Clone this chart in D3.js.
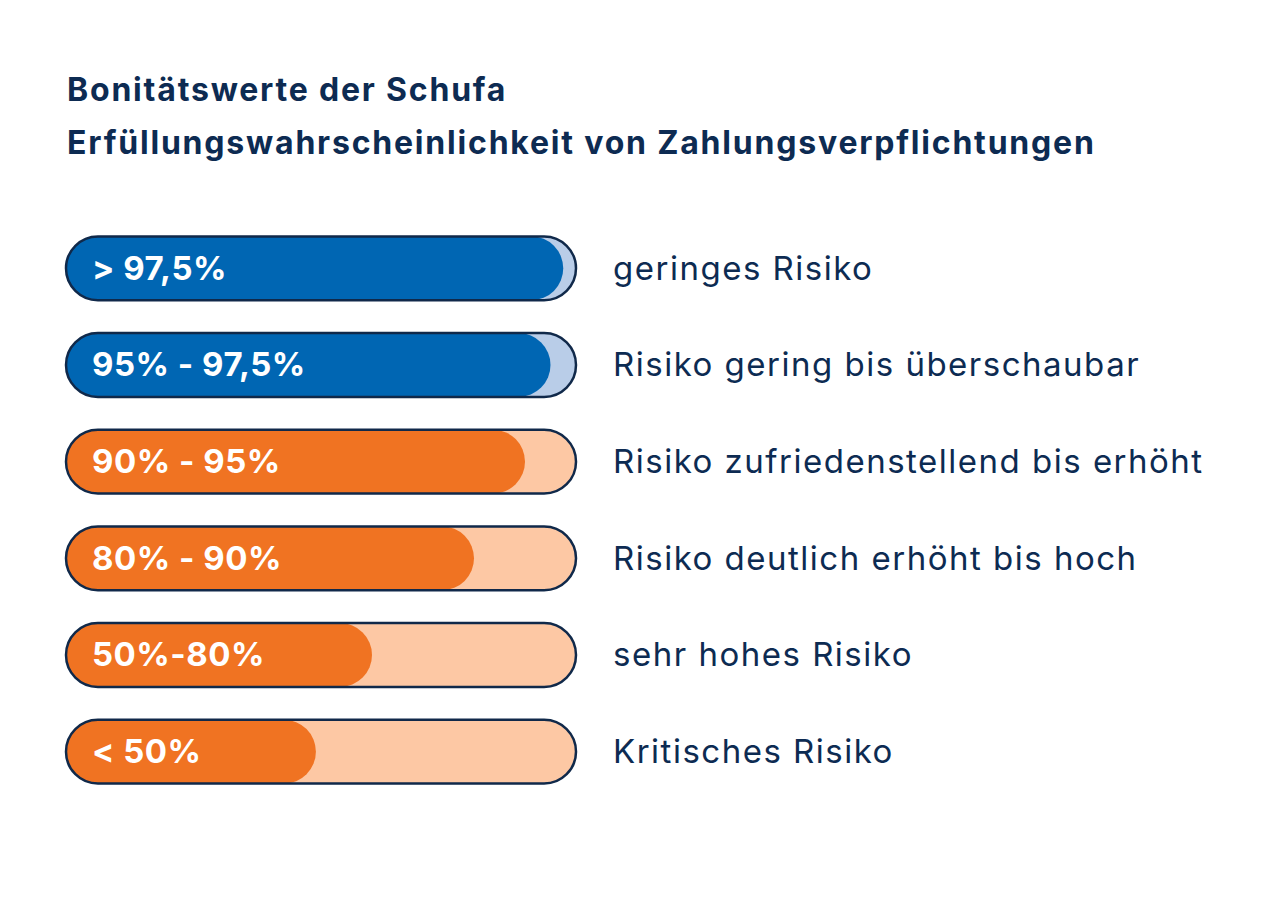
<!DOCTYPE html>
<html>
<head>
<meta charset="utf-8">
<script src="https://cdn.jsdelivr.net/npm/d3@7"></script>
<style>
  html, body { margin: 0; padding: 0; background: #ffffff; }
  svg { display: block; }
</style>
</head>
<body>
<svg id="chart" width="1280" height="922"></svg>
<script>
// ---- data ----
const titleLines = ["Bonitätswerte der Schufa", "Erfüllungswahrscheinlichkeit von Zahlungsverpflichtungen"];
const categories = ["> 97,5%", "95% - 97,5%", "90% - 95%", "80% - 90%", "50%-80%", "< 50%"];
const descriptions = ["geringes Risiko", "Risiko gering bis überschaubar", "Risiko zufriedenstellend bis erhöht", "Risiko deutlich erhöht bis hoch", "sehr hohes Risiko", "Kritisches Risiko"];
const fillValues = [97.5, 95, 90, 80, 60, 49];
const groups = ["blue", "blue", "orange", "orange", "orange", "orange"];

// ---- styles ----
const colors = {
  blue: { fill: "#0066b3", track: "#b9cde8" },
  orange: { fill: "#f07322", track: "#fdc8a4" }
};
const navy = "#0d2b52";
const stroke = "#10294a";

const svg = d3.select("#chart");
const W = 1280, H = 922;
svg.append("rect").attr("width", W).attr("height", H).attr("fill", "#ffffff");

// Title
svg.append("g").selectAll("text").data(titleLines).join("text")
  .attr("x", 67)
  .attr("y", (d, i) => 101 + i * 53)
  .attr("font-family", "Inter, 'Noto Sans', sans-serif")
  .attr("font-weight", 700)
  .attr("font-size", 32)
  .attr("letter-spacing", 1.8)
  .attr("fill", navy)
  .text(d => d);

// Scales
const x = d3.scaleLinear().domain([0, 100]).range([66, 576]);
const y = d3.scaleBand().domain(categories).range([220, 800]).paddingInner(0.34).paddingOuter(0.17);

const bh = y.bandwidth();
const rows = svg.append("g").selectAll("g").data(categories).join("g")
  .attr("transform", d => `translate(0,${y(d)})`);

// track
rows.append("rect")
  .attr("x", x(0)).attr("y", 0)
  .attr("width", x(100) - x(0)).attr("height", bh)
  .attr("rx", bh / 2).attr("ry", bh / 2)
  .attr("fill", (d, i) => colors[groups[i]].track);

// fill
rows.append("rect")
  .attr("x", x(0)).attr("y", 0)
  .attr("width", (d, i) => x(fillValues[i]) - x(0)).attr("height", bh)
  .attr("rx", bh / 2).attr("ry", bh / 2)
  .attr("fill", (d, i) => colors[groups[i]].fill);

// outline
rows.append("rect")
  .attr("x", x(0)).attr("y", 0)
  .attr("width", x(100) - x(0)).attr("height", bh)
  .attr("rx", bh / 2).attr("ry", bh / 2)
  .attr("fill", "none")
  .attr("stroke", stroke)
  .attr("stroke-width", 2.5);

// category label inside bar
rows.append("text")
  .attr("x", 92)
  .attr("y", bh / 2 + 11.5)
  .attr("font-family", "Inter, 'Noto Sans', sans-serif")
  .attr("font-weight", 700)
  .attr("font-size", 33)
  .attr("letter-spacing", 0.5)
  .attr("fill", "#ffffff")
  .text(d => d);

// description
rows.append("text")
  .attr("x", 613)
  .attr("y", bh / 2 + 11.5)
  .attr("font-family", "Inter, 'Noto Sans', sans-serif")
  .attr("font-weight", 400)
  .attr("font-size", 33)
  .attr("letter-spacing", 1.5)
  .attr("fill", navy)
  .text((d, i) => descriptions[i]);
</script>
</body>
</html>
